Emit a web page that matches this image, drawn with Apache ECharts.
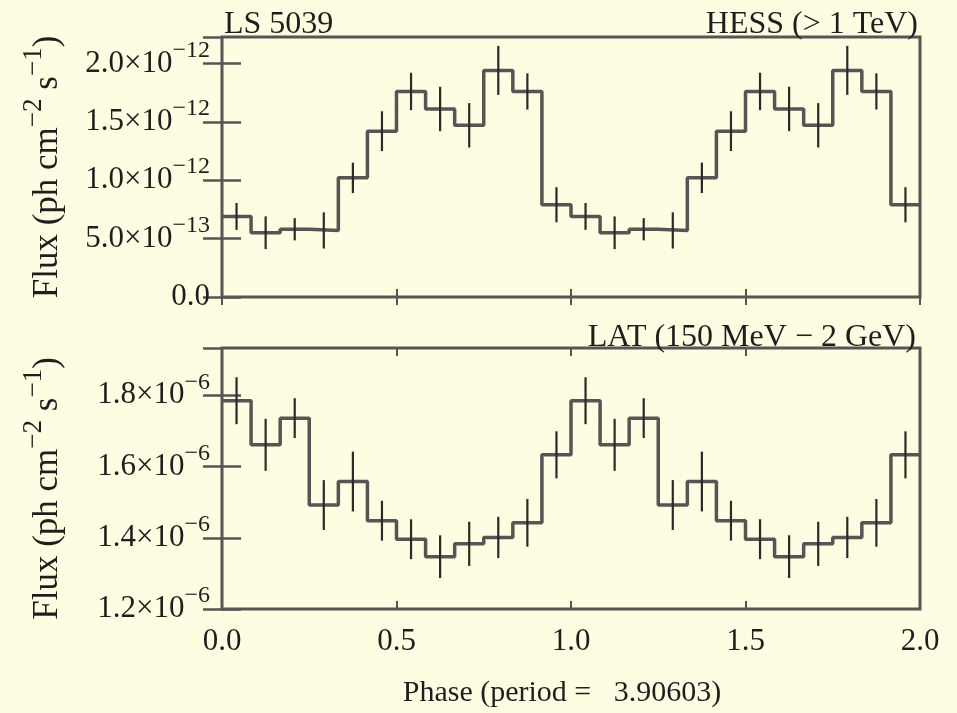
<!DOCTYPE html>
<html>
<head>
<meta charset="utf-8">
<script src="https://cdn.jsdelivr.net/npm/echarts@6/dist/echarts.min.js"></script>
<style>
  html, body { margin: 0; padding: 0; background: #fefde2; }
  #chart { width: 957px; height: 713px; }
</style>
</head>
<body>
<div id="chart"></div>
<script>
// Folded light curves of LS 5039: 12 phase bins per orbit, shown over two orbits
const binsPerPeriod = 12;
const periodsShown = 2;

// HESS (> 1 TeV) flux per phase bin, in units of 1e-12 ph cm^-2 s^-1
const hessFlux = [0.69, 0.55, 0.58, 0.57, 1.02, 1.42, 1.76, 1.61, 1.47, 1.94, 1.76, 0.79];
const hessErr  = [0.115, 0.14, 0.095, 0.155, 0.13, 0.17, 0.16, 0.19, 0.19, 0.21, 0.155, 0.15];

// Fermi LAT (150 MeV - 2 GeV) flux per phase bin, in units of 1e-6 ph cm^-2 s^-1
const latFlux = [1.785, 1.661, 1.736, 1.492, 1.558, 1.448, 1.396, 1.347, 1.383, 1.401, 1.442, 1.633];
const latErr  = [0.066, 0.073, 0.056, 0.070, 0.084, 0.056, 0.056, 0.060, 0.062, 0.058, 0.067, 0.066];

// Axis tick labels ("^" separates mantissa from exponent)
const phaseTickLabels = ['0.0', '0.5', '1.0', '1.5', '2.0'];
const hessTickLabels = ['0.0', '5.0×10^−13', '1.0×10^−12', '1.5×10^−12', '2.0×10^−12'];
const latTickLabels = ['1.2×10^−6', '1.4×10^−6', '1.6×10^−6', '1.8×10^−6'];

const FONT = 'Liberation Serif';
const INK = '#1e1e1e';
const LINE = '#555';

const binWidth = 1 / binsPerPeriod;
const nBins = binsPerPeriod * periodsShown;

// Histogram outline: left edge of every bin, closed at the right end
function stepData(flux) {
  const pts = [];
  for (let k = 0; k < nBins; k++) pts.push([k * binWidth, flux[k % binsPerPeriod]]);
  pts.push([periodsShown, flux[binsPerPeriod - 1]]);
  return pts;
}
// Error bars at bin centres
function errData(flux, err) {
  const pts = [];
  for (let k = 0; k < nBins; k++) {
    const i = k % binsPerPeriod;
    pts.push([(k + 0.5) * binWidth, flux[i], err[i]]);
  }
  return pts;
}

function tickFormatter(labels, min, step) {
  return function (value) {
    const idx = Math.round((value - min) / step);
    if (Math.abs(value - (min + idx * step)) > 1e-6 || !labels[idx]) return '';
    const parts = labels[idx].split('^');
    return parts.length > 1 ? '{m|' + parts[0] + '}{e|' + parts[1] + '}' : '{m|' + parts[0] + '}';
  };
}

const richSci = {
  m: { fontFamily: FONT, fontSize: 31, color: INK },
  e: { fontFamily: FONT, fontSize: 24, color: INK, padding: [0, 0, 26, 0] }
};

const fluxTitle = '{t|Flux (ph cm}{s|−2}{t| s}{s|−1}{t|)}';
function richTitle() {
  return {
    t: { fontFamily: FONT, fontSize: 35, color: INK },
    s: { fontFamily: FONT, fontSize: 27, color: INK, padding: [0, 0, 28, 0] }
  };
}

const grids = [
  { left: 222, right: 37, top: 37, height: 260 },
  { left: 222, right: 37, top: 348, height: 261 }
];

function xAxisDef(gridIndex, position, withLabels) {
  const ax = {
    type: 'value', gridIndex: gridIndex, position: position,
    min: 0, max: periodsShown, interval: 0.5,
    axisLine: { show: false },
    axisTick: { show: true, inside: true, length: 8, lineStyle: { color: LINE, width: 2 } },
    splitLine: { show: false },
    axisLabel: { show: false }
  };
  if (withLabels) {
    ax.axisLabel = {
      show: true, margin: 17, fontFamily: FONT, fontSize: 31, color: INK,
      formatter: function (v) { return phaseTickLabels[Math.round(v / 0.5)] || ''; }
    };
    ax.name = 'Phase (period =   3.90603)';
    ax.nameLocation = 'middle';
    ax.nameGap = 69;
    ax.nameTextStyle = { fontFamily: FONT, fontSize: 30, color: INK, padding: [0, 18, 0, 0] };
  }
  return ax;
}

function yAxisDef(gridIndex, position, min, max, step, labels, titleShift) {
  const ax = {
    type: 'value', gridIndex: gridIndex, position: position,
    min: min, max: max, interval: step,
    axisLine: { show: false },
    axisTick: { show: true, inside: true, length: 19, lineStyle: { color: LINE, width: 2.5 } },
    splitLine: { show: false },
    axisLabel: { show: false }
  };
  if (labels) {
    ax.axisLabel = {
      show: true, margin: 12, showMaxLabel: false,
      formatter: tickFormatter(labels, min, step),
      rich: richSci
    };
    ax.name = fluxTitle;
    ax.nameLocation = 'middle';
    ax.nameRotate = 90;
    ax.nameGap = 147;
    ax.nameTextStyle = { rich: richTitle(), padding: [0, titleShift, 0, 0] };
  }
  return ax;
}

function stepSeries(axisIdx, flux) {
  return {
    type: 'line', xAxisIndex: axisIdx, yAxisIndex: axisIdx,
    data: stepData(flux), step: 'end', showSymbol: false, symbol: 'none',
    lineStyle: { color: LINE, width: 3.5 }, silent: true, z: 2
  };
}

function errSeries(axisIdx, flux, err) {
  return {
    type: 'custom', xAxisIndex: axisIdx, yAxisIndex: axisIdx,
    data: errData(flux, err), silent: true, z: 3,
    renderItem: function (params, api) {
      const x = api.value(0), y = api.value(1), e = api.value(2);
      const lo = api.coord([x, y - e]);
      const hi = api.coord([x, y + e]);
      return {
        type: 'line',
        shape: { x1: lo[0], y1: lo[1], x2: hi[0], y2: hi[1] },
        style: { stroke: '#2a2a2a', lineWidth: 2.2 }
      };
    }
  };
}

const titleFont = { fontFamily: FONT, fontSize: 32, fontWeight: 'normal', color: INK };

const chart = echarts.init(document.getElementById('chart'), null, { renderer: 'canvas' });
chart.setOption({
  backgroundColor: '#fefde2',
  animation: false,
  title: [
    { text: 'LS 5039', left: 219, top: 4, textStyle: titleFont },
    { text: 'HESS (> 1 TeV)', right: 34, top: 4, textStyle: titleFont },
    { text: 'LAT (150 MeV − 2 GeV)', right: 36, top: 317, textStyle: titleFont }
  ],
  grid: grids.map(function (g) {
    return Object.assign({ show: true, borderColor: LINE, borderWidth: 3, backgroundColor: 'transparent' }, g);
  }),
  xAxis: [
    xAxisDef(0, 'bottom', false),
    xAxisDef(0, 'top', false),
    xAxisDef(1, 'bottom', true),
    xAxisDef(1, 'top', false)
  ],
  yAxis: [
    yAxisDef(0, 'left', 0, 2.226, 0.5, hessTickLabels, 0),
    yAxisDef(0, 'right', 0, 2.226, 0.5, null, 0),
    yAxisDef(1, 'left', 1.2, 1.933, 0.2, latTickLabels, 20),
    yAxisDef(1, 'right', 1.2, 1.933, 0.2, null, 0)
  ],
  series: [
    stepSeries(0, hessFlux),
    errSeries(0, hessFlux, hessErr),
    stepSeries(2, latFlux),
    errSeries(2, latFlux, latErr)
  ]
});
</script>
</body>
</html>
